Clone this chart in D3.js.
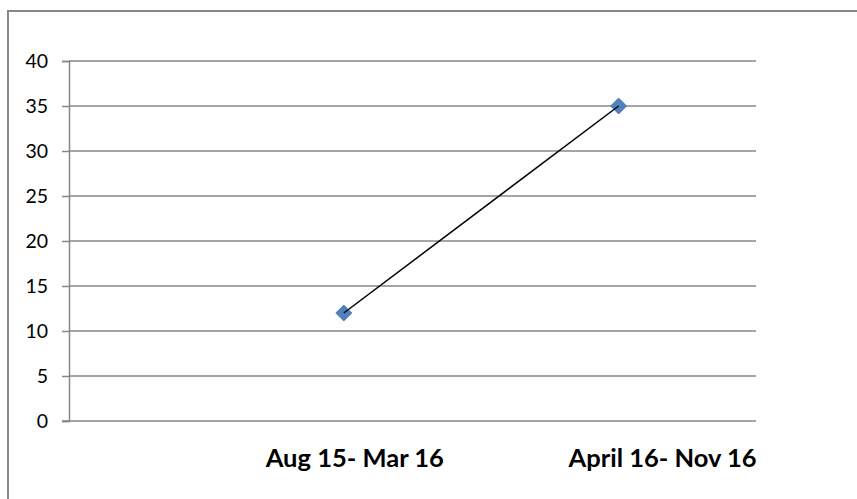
<!DOCTYPE html>
<html><head><meta charset="utf-8">
<script src="https://cdn.jsdelivr.net/npm/d3@7"></script>
<style>
html,body{margin:0;padding:0;background:#fff;}
svg{display:block;font-family:Lato,"Open Sans",sans-serif;}
</style></head>
<body>
<script>
const categories = ["Aug 15- Mar 16", "April 16- Nov 16"];
const values = [12, 35];
const yTicks = [0, 5, 10, 15, 20, 25, 30, 35, 40];

(function(){
const W = 857, H = 499;
const mLeft = 69, mRight = 756, mTop = 61, mBottom = 421;
const svg = d3.select("body").append("svg").attr("width", W).attr("height", H);

// outer frame
svg.append("path").attr("d", `M8,${H}V11H${W}`).attr("fill","none")
  .attr("stroke","#878787").attr("stroke-width",2);

const y = d3.scaleLinear().domain([0, 40]).range([mBottom, mTop]);
const x = d3.scaleLinear().domain([0, 2.5]).range([mLeft, mRight]);

// gridlines
svg.append("g").selectAll("line").data(yTicks.filter(d=>d>0)).join("line")
  .attr("x1", mLeft).attr("x2", mRight).attr("y1", d=>y(d)).attr("y2", d=>y(d))
  .attr("stroke","#878787").attr("stroke-width",1.5);

// y axis
const yAxis = d3.axisLeft(y).tickValues(yTicks).tickSize(7).tickPadding(14).tickFormat(d3.format("d"));
const gy = svg.append("g").attr("transform", `translate(${mLeft},0)`).call(yAxis);
gy.select(".domain").attr("stroke","#878787").attr("stroke-width",1.5);
gy.selectAll(".tick line").attr("stroke","#878787").attr("stroke-width",1.5);
gy.selectAll(".tick text").attr("fill","#000").style("font-size","19.5px").style("font-family","Lato, sans-serif");

// x axis line
svg.append("line").attr("x1", mLeft-7).attr("x2", mRight).attr("y1", mBottom).attr("y2", mBottom)
  .attr("stroke","#878787").attr("stroke-width",1.5);

// x labels
const labelShift = [11, 44];
svg.append("g").selectAll("text").data(categories).join("text")
  .attr("x", (d,i)=>x(i+1)+labelShift[i]).attr("y", 467)
  .attr("text-anchor","middle").attr("font-weight","bold").style("font-size","25.5px")
  .text(d=>d);

// markers
const r = 8;
svg.append("g").selectAll("path").data(values).join("path")
  .attr("d", (d,i)=>{const cx=x(i+1), cy=y(d); return `M${cx},${cy-r}L${cx+r},${cy}L${cx},${cy+r}L${cx-r},${cy}Z`;})
  .attr("fill","#4F81BD").attr("stroke","#3F6FA8").attr("stroke-width",0.8);

// line
svg.append("path").datum(values)
  .attr("d", d3.line().x((d,i)=>x(i+1)).y(d=>y(d)))
  .attr("fill","none").attr("stroke","#000").attr("stroke-width",1.5);
})();
</script>
</body></html>
